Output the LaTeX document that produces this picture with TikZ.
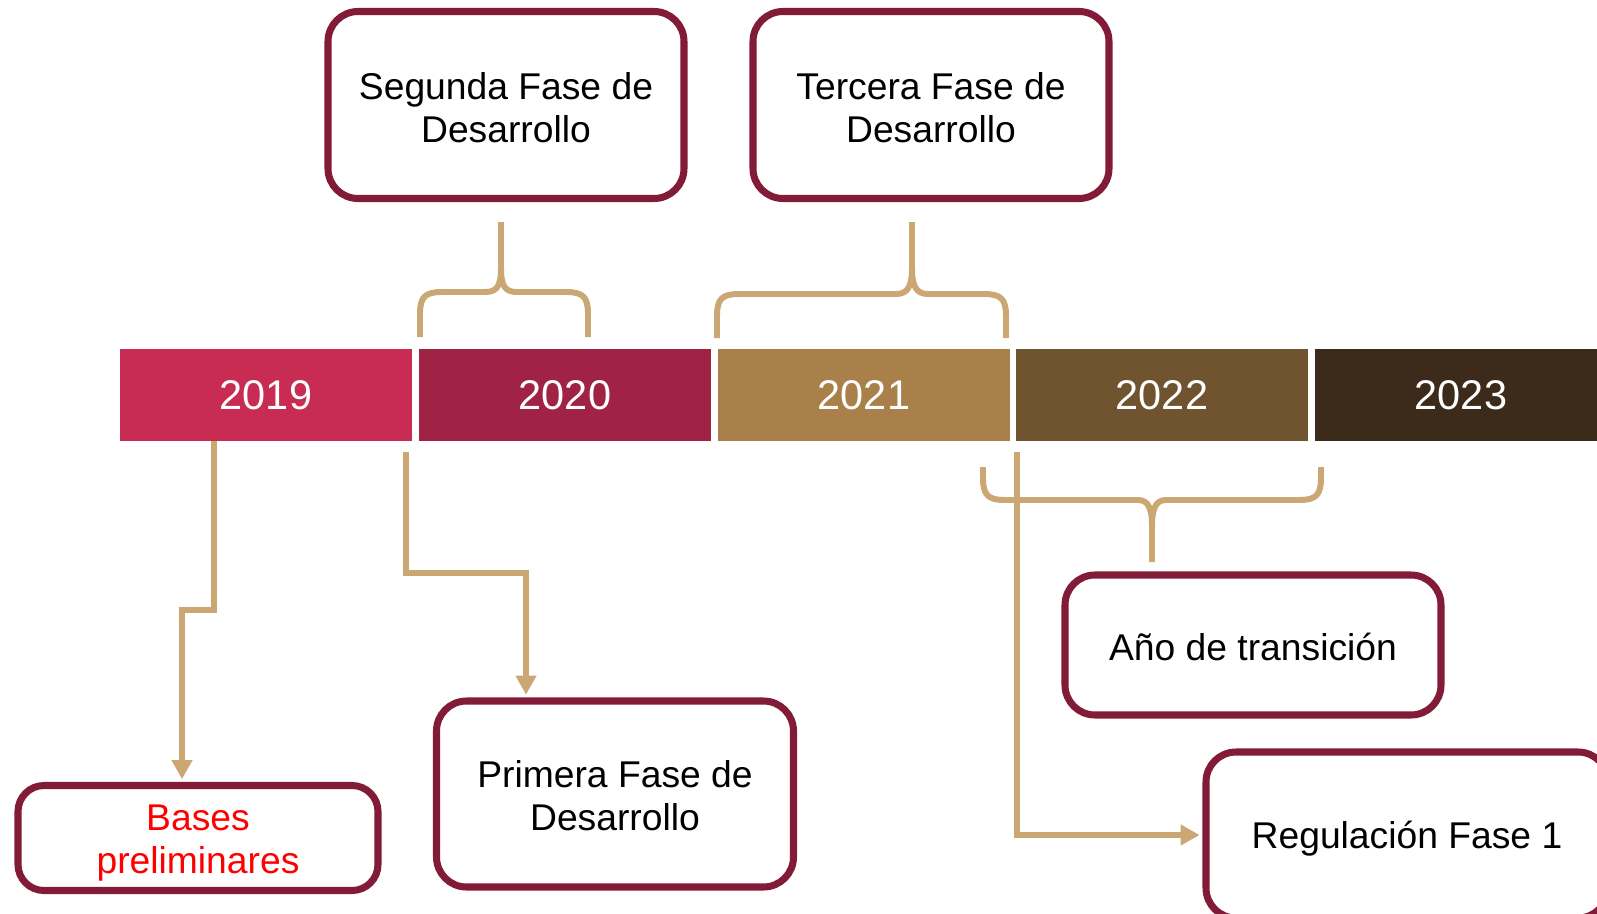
\documentclass[tikz,border=0pt]{standalone}
\usepackage{fontspec}
\setmainfont{Liberation Sans}
\usetikzlibrary{arrows.meta}

\definecolor{yr19}{HTML}{C82C52}
\definecolor{yr20}{HTML}{A02345}
\definecolor{yr21}{HTML}{A9804A}
\definecolor{yr22}{HTML}{705430}
\definecolor{yr23}{HTML}{3C2B1A}
\definecolor{boxred}{HTML}{821B38}
\definecolor{tan}{HTML}{CBA773}

\tikzset{
  yearbar/.style={minimum width=2.92cm, minimum height=0.92cm, inner sep=0pt,
    text=white, font=\fontsize{11.8}{14}\selectfont},
  phasebox/.style={draw=boxred, line width=2pt, rounded corners=0.3cm, fill=white,
    align=center, inner sep=0pt, font=\fontsize{10.6}{12.2}\selectfont},
  bracket/.style={draw=tan, line width=1.7pt},
  link/.style={draw=tan, line width=1.7pt, -{Triangle[length=5.4pt,width=5.6pt]}, shorten >=0.8pt},
}

\begin{document}
\begin{tikzpicture}[x=0.1mm, y=-0.1mm]
\useasboundingbox (0,0) rectangle (1597,914);
\clip (0,0) rectangle (1597,914);

% years
\node[yearbar, fill=yr19] (y2019) at (266,395) {2019};
\node[yearbar, fill=yr20] (y2020) at (565,395) {2020};
\node[yearbar, fill=yr21] (y2021) at (864,395) {2021};
\node[yearbar, fill=yr22] (y2022) at (1162,395) {2022};
\node[yearbar, fill=yr23] (y2023) at (1461,395) {2023};

% braces
\draw[bracket] (420,337) -- (420,314) .. controls (420,297) and (425,292) .. (442,292) -- (485,292) .. controls (497,292) and (501,286) .. (501,268) -- (501,222);
\draw[bracket] (588,337) -- (588,314) .. controls (588,297) and (583,292) .. (566,292) -- (517,292) .. controls (505,292) and (501,286) .. (501,268);

\draw[bracket] (717,338) -- (717,316) .. controls (717,299) and (722,294) .. (739,294) -- (896,294) .. controls (908,294) and (912,286) .. (912,268) -- (912,222);
\draw[bracket] (1006,338) -- (1006,316) .. controls (1006,299) and (1001,294) .. (984,294) -- (928,294) .. controls (916,294) and (912,286) .. (912,268);

\draw[bracket] (983,467) -- (983,478) .. controls (983,495) and (988,500) .. (1005,500) -- (1138,500) .. controls (1148,500) and (1152,508) .. (1152,526) -- (1152,562);
\draw[bracket] (1321,467) -- (1321,478) .. controls (1321,495) and (1316,500) .. (1299,500) -- (1166,500) .. controls (1156,500) and (1152,508) .. (1152,526);

% phases
\node[phasebox, minimum width=3.56cm, minimum height=1.87cm, text height=21.6pt] (segunda) at (506,105) {Segunda Fase de\\Desarrollo};
\node[phasebox, minimum width=3.56cm, minimum height=1.87cm, text height=21.6pt] (tercera) at (931,105) {Tercera Fase de\\Desarrollo};
\node[phasebox, minimum width=3.60cm, minimum height=1.05cm, rounded corners=0.26cm, text=red, text height=22.6pt] (bases) at (198,838) {Bases\\preliminares};
\node[phasebox, minimum width=3.57cm, minimum height=1.86cm, text height=21pt] (primera) at (615,794) {Primera Fase de\\Desarrollo};
\node[phasebox, minimum width=3.76cm, minimum height=1.40cm, text height=9.2pt] (transicion) at (1253,645) {Año de transición};
\node[phasebox, minimum width=4.02cm, minimum height=1.66cm, text height=10.1pt] (regulacion) at (1407,835) {Regulación Fase 1};

% arrows
\coordinate (s1) at (214,441);
\coordinate (k1) at (182,610);
\coordinate (s2) at (406,452);
\coordinate (k2) at (526,573);
\coordinate (s3) at (1017,452);
\draw[link] (s1) |- (k1) -- (k1 |- bases.north);
\draw[link] (s2) |- (k2) -- (k2 |- primera.north);
\draw[link] (s3) |- (regulacion.west);
\end{tikzpicture}
\end{document}
